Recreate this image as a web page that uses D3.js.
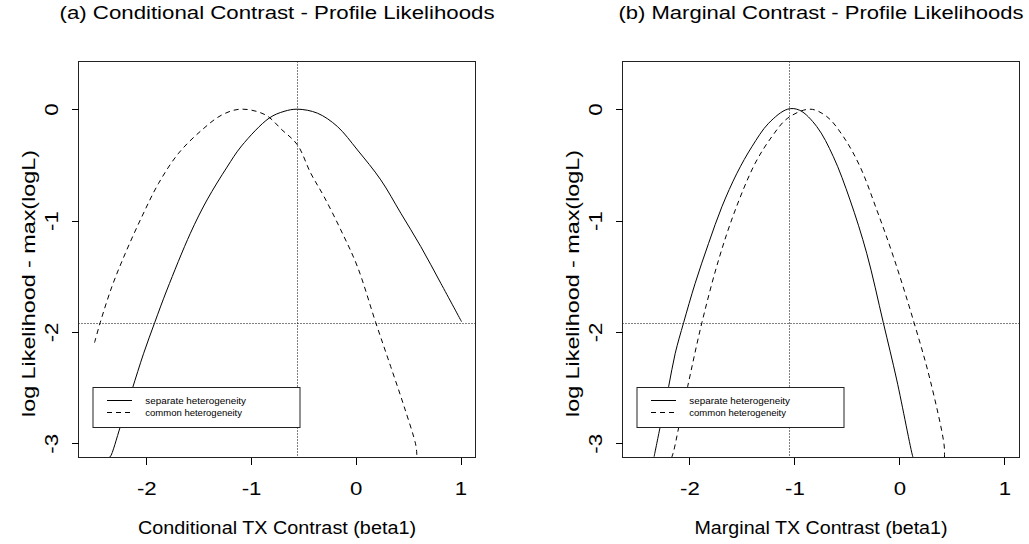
<!DOCTYPE html>
<html>
<head>
<meta charset="utf-8">
<script src="https://cdn.jsdelivr.net/npm/d3@7"></script>
<style>
  body { margin: 0; background: #fff; }
  svg { display: block; }
  text { font-family: "Liberation Sans", Arial, Helvetica, sans-serif; fill: #000; }
</style>
</head>
<body>
<div class="canva"></div>
<script>
var width = 1029;
var height = 544;

// profile likelihood curves: [beta1, logL - max(logL)]
const condSeparate = [[-2.357,-3.126],[-2.344,-3.12],[-2.248,-2.851],[-2.137,-2.521],[-2.025,-2.192],[-1.92,-1.917],
  [-1.803,-1.623],[-1.579,-1.114],[-1.42,-0.815],[-1.229,-0.52],[-1.09,-0.33],[-0.828,-0.081],[-0.685,-0.02],[-0.557,0],
  [-0.366,-0.036],[-0.175,-0.156],[0.016,-0.366],[0.239,-0.635],[0.43,-0.934],[0.621,-1.234],[0.812,-1.563],[1.01,-1.908]];
const condCommon = [[-2.494,-2.096],[-2.44,-1.917],[-2.328,-1.593],[-2.2,-1.294],[-2.042,-0.965],[-1.882,-0.665],
  [-1.691,-0.395],[-1.468,-0.186],[-1.277,-0.051],[-1.096,0],[-0.863,-0.051],[-0.704,-0.186],[-0.557,-0.32],
  [-0.43,-0.575],[-0.303,-0.785],[-0.143,-1.084],[0.016,-1.414],[0.191,-1.917],[0.334,-2.312],[0.462,-2.671],
  [0.573,-3.015],[0.583,-3.105]];
const margSeparate = [[-2.336,-3.12],[-2.278,-2.851],[-2.198,-2.492],[-2.135,-2.192],[-2.055,-1.917],[-1.945,-1.563],
  [-1.817,-1.204],[-1.69,-0.875],[-1.547,-0.575],[-1.404,-0.336],[-1.245,-0.126],[-1.064,0],[-0.949,-0.01],
  [-0.787,-0.156],[-0.629,-0.426],[-0.47,-0.815],[-0.311,-1.294],[-0.153,-1.917],[-0.025,-2.431],[0.128,-3.12],[0.133,-3.13]];
const margCommon = [[-2.17,-3.13],[-2.151,-3.075],[-2.097,-2.836],[-2.017,-2.492],[-1.881,-1.917],[-1.722,-1.354],
  [-1.563,-0.905],[-1.373,-0.485],[-1.214,-0.246],[-1.064,-0.081],[-0.851,0],[-0.692,-0.066],[-0.534,-0.246],
  [-0.375,-0.515],[-0.215,-0.905],[-0.057,-1.324],[0.14,-1.917],[0.293,-2.431],[0.426,-3.015],[0.429,-3.13]];

const xTicks = [-2, -1, 0, 1];
const yTicks = [0, -1, -2, -3];
const mleCond = -0.557;   // vertical reference lines
const mleMarg = -1.055;
const cutoff = -1.92;     // -qchisq(0.95,1)/2
const legendLabels = ['separate heterogeneity', 'common heterogeneity'];
const titles = ['(a) Conditional Contrast - Profile Likelihoods', '(b) Marginal Contrast - Profile Likelihoods'];
const xLabels = ['Conditional TX Contrast (beta1)', 'Marginal TX Contrast (beta1)'];
const yLabel = 'log Likelihood - max(logL)';

const svg = d3.select('.canva').append('svg')
            .attr('width', width)
            .attr('height', height);

// the source font is wider than Arial, so text gets stretched along its direction
const stretch = 1.27;
const fs = 17.5;

const panels = [
  {id: 'a', left: 78.5, right: 475.5, xdom: [-2.647, 1.143], sep: condSeparate, com: condCommon, vline: mleCond,
   title: titles[0], titleLen: 435, xlab: xLabels[0], xlabLen: 278},
  {id: 'b', left: 622.5, right: 1019.5, xdom: [-2.637, 1.144], sep: margSeparate, com: margCommon, vline: mleMarg,
   title: titles[1], titleLen: 405, xlab: xLabels[1], xlabLen: 253}
];
const legendLens = [100.7, 96.7];
const plotTop = 61.5, plotBottom = 457.5;

panels.forEach(p => {
  const x = d3.scaleLinear().domain(p.xdom).range([p.left, p.right]);
  const y = d3.scaleLinear().domain([-3.127, 0.428]).range([plotBottom, plotTop]);
  const g = svg.append('g');

  g.append('clipPath').attr('id', 'clip-' + p.id)
    .append('rect').attr('x', p.left).attr('y', plotTop)
    .attr('width', p.right - p.left).attr('height', plotBottom - plotTop);

  const plot = g.append('g').attr('clip-path', 'url(#clip-' + p.id + ')');
  const line = d3.line().x(d => x(d[0])).y(d => y(d[1])).curve(d3.curveCatmullRom.alpha(0.5));

  plot.append('path').datum(p.sep).attr('d', line)
      .attr('fill', 'none').attr('stroke', '#000').attr('stroke-width', 1);
  plot.append('path').datum(p.com).attr('d', line)
      .attr('fill', 'none').attr('stroke', '#000').attr('stroke-width', 1)
      .attr('stroke-dasharray', '5,4');

  // reference lines
  const vx = Math.round(x(p.vline)) + 0.5, hy = Math.round(y(cutoff)) + 0.5;
  plot.append('line').attr('x1', vx).attr('x2', vx).attr('y1', plotTop).attr('y2', plotBottom)
      .attr('stroke', '#000').attr('stroke-width', 1).attr('stroke-dasharray', '1,2');
  plot.append('line').attr('x1', p.left).attr('x2', p.right).attr('y1', hy).attr('y2', hy)
      .attr('stroke', '#000').attr('stroke-width', 1).attr('stroke-dasharray', '1,2');

  // box
  g.append('rect').attr('x', p.left).attr('y', plotTop)
    .attr('width', p.right - p.left).attr('height', plotBottom - plotTop)
    .attr('fill', 'none').attr('stroke', '#222').attr('stroke-width', 1);

  // axes
  const xAxis = d3.axisBottom(x).tickValues(xTicks).tickSize(7).tickPadding(0).tickFormat(d3.format('d'));
  const xa = g.append('g').attr('transform', 'translate(0,' + plotBottom + ')').call(xAxis);
  xa.select('.domain').remove();
  xa.selectAll('line').attr('shape-rendering', 'crispEdges');
  xa.selectAll('text').attr('font-size', fs).attr('dy', null).attr('y', 37.7)
    .attr('transform', 'scale(' + stretch + ',1)')
    .text(d => d < 0 ? '-' + Math.abs(d) : d);

  const yAxis = d3.axisLeft(y).tickValues(yTicks).tickSize(7).tickFormat(d3.format('d'));
  const ya = g.append('g').attr('transform', 'translate(' + p.left + ',0)').call(yAxis);
  ya.select('.domain').remove();
  ya.selectAll('line').attr('shape-rendering', 'crispEdges');
  ya.selectAll('text').attr('font-size', fs).attr('x', null).attr('dy', null)
    .attr('text-anchor', 'middle')
    .attr('transform', 'translate(-21,0) rotate(-90) scale(' + stretch + ',1)')
    .text(d => d < 0 ? '-' + Math.abs(d) : d);

  // legend
  const lx = p.left + 14.5, ly = 387.5;
  const lg = g.append('g');
  lg.append('rect').attr('x', lx).attr('y', ly).attr('width', 207).attr('height', 40)
    .attr('fill', '#fff').attr('stroke', '#222').attr('stroke-width', 1);
  legendLabels.forEach((lab, i) => {
    const ry = ly + 13 + i * 12;
    lg.append('line').attr('x1', lx + 14).attr('x2', lx + 39).attr('y1', ry).attr('y2', ry)
      .attr('stroke', '#000').attr('stroke-width', 1)
      .attr('stroke-dasharray', i === 1 ? '5,4' : null);
    lg.append('text').attr('x', lx + 52.3).attr('y', ry + 3.4)
      .attr('font-size', 9.5).attr('textLength', legendLens[i]).attr('lengthAdjust', 'spacingAndGlyphs')
      .text(lab);
  });

  // titles
  const cx = (p.left + p.right) / 2;
  g.append('text').attr('x', cx).attr('y', 19).attr('text-anchor', 'middle')
    .attr('font-size', fs).attr('textLength', p.titleLen).attr('lengthAdjust', 'spacingAndGlyphs')
    .text(p.title);
  g.append('text').attr('x', cx).attr('y', 534).attr('text-anchor', 'middle')
    .attr('font-size', fs).attr('textLength', p.xlabLen).attr('lengthAdjust', 'spacingAndGlyphs')
    .text(p.xlab);
  g.append('text').attr('transform', 'translate(' + (p.left - 43.5) + ',' + ((plotTop + plotBottom) / 2 + 24) + ') rotate(-90)')
    .attr('text-anchor', 'middle').attr('font-size', fs)
    .attr('textLength', 267).attr('lengthAdjust', 'spacingAndGlyphs')
    .text(yLabel);
});
</script>
</body>
</html>
